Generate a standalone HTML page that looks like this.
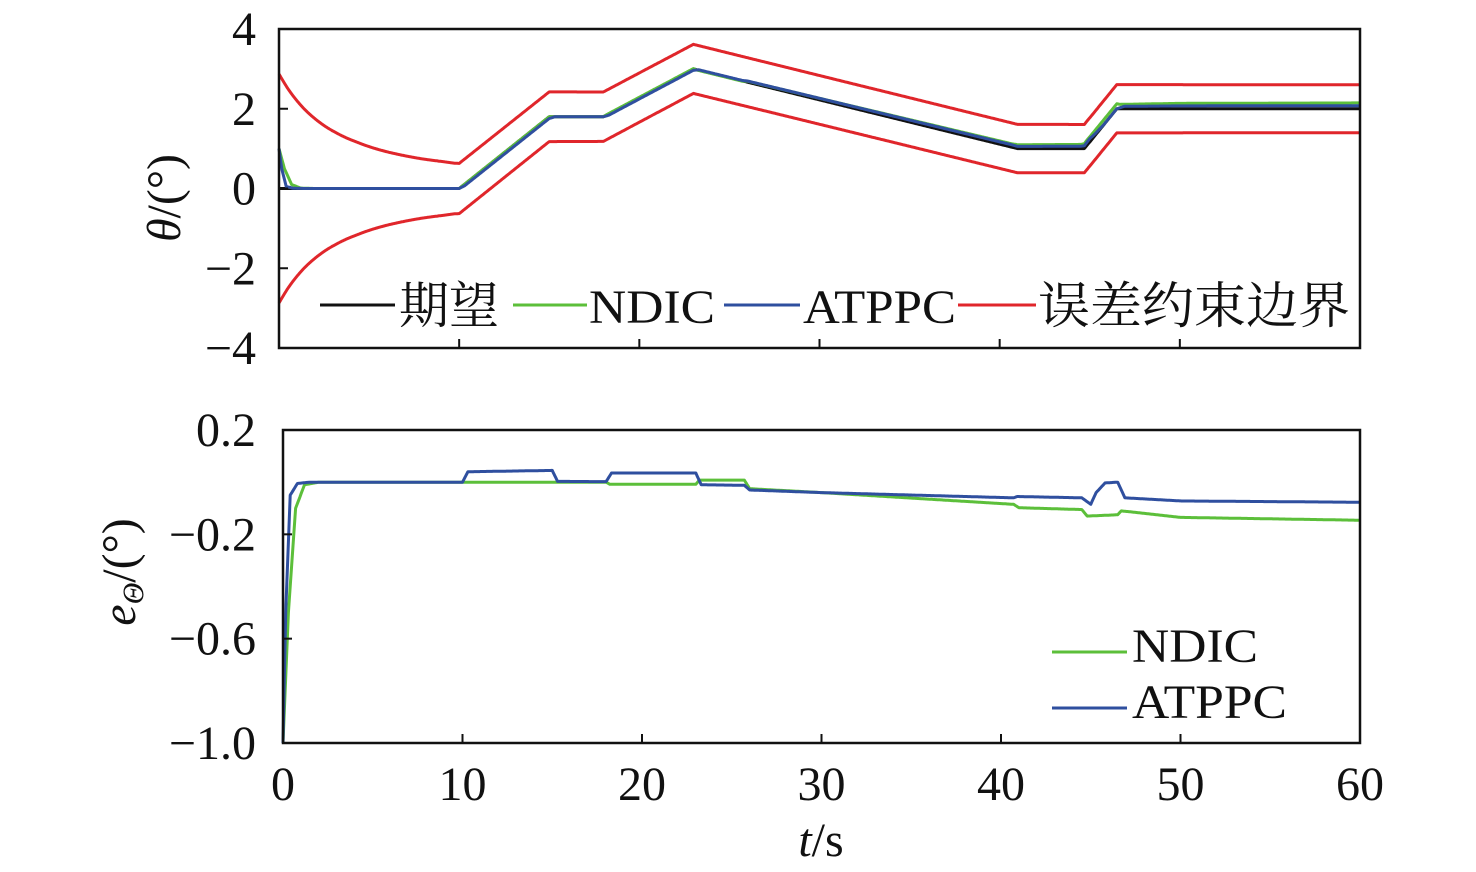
<!DOCTYPE html>
<html><head><meta charset="utf-8"><style>
body{margin:0;background:#fff;}
svg{display:block;font-family:"Liberation Serif","Noto Serif CJK SC",serif;}
</style></head><body>
<svg id="c" width="1476" height="872" viewBox="0 0 1476 872"></svg>
<script>
// ---- data ----
const xTicks=[0,10,20,30,40,50,60];
const topYTicks=[4,2,0,-2,-4];
const topYLabels=["4","2","0","−2","−4"];
const botYTicks=[0.2,-0.2,-0.6,-1.0];
const botYLabels=["0.2","−0.2","−0.6","−1.0"];
// desired trajectory keypoints
const desiredT=[0,10,15,18,23,41,44.7,46.5,60];
const desiredV=[0,0,1.8,1.8,3.0,1.0,1.0,2.0,2.0];
// constraint width rho(t)
const rhoT=[0,0.5,1,1.5,2,2.5,3,3.5,4,5,6,7,8,9,10,60];
const rhoV=[2.87,2.5,2.2,1.95,1.75,1.58,1.44,1.32,1.22,1.05,0.92,0.82,0.74,0.68,0.63,0.6];
// tracking errors
const ndicT=[0,0.3,0.7,1.2,2,10,18,18.2,23,23.2,25.7,26,30,40.7,41,44.5,44.8,46.5,46.7,50,60];
const ndicE=[-1,-0.5,-0.1,-0.01,0,0,0,-0.008,-0.008,0.008,0.008,-0.025,-0.04,-0.085,-0.098,-0.105,-0.13,-0.125,-0.11,-0.135,-0.146];
const atppcT=[0,0.15,0.4,0.8,1.5,10,10.3,15,15.3,18,18.3,23,23.3,25.7,26,30,40.7,40.9,44.5,45,45.3,45.8,46.5,46.9,50,60];
const atppcE=[-1,-0.5,-0.05,-0.005,0,0,0.04,0.045,0.003,0.002,0.035,0.035,-0.01,-0.012,-0.03,-0.04,-0.06,-0.055,-0.06,-0.085,-0.04,-0.003,0,-0.06,-0.072,-0.077];

const svg=document.getElementById('c');
const NS='http://www.w3.org/2000/svg';
function mk(tag,attrs,parent){const e=document.createElementNS(NS,tag);for(const k in attrs)e.setAttribute(k,attrs[k]);(parent||svg).appendChild(e);return e;}
function interp(T,V,t){if(t<=T[0])return V[0];for(let i=1;i<T.length;i++){if(t<=T[i]){const f=(t-T[i-1])/(T[i]-T[i-1]);return V[i-1]+f*(V[i]-V[i-1]);}}return V[V.length-1];}
function interpSmooth(T,V,t){ // monotone-ish cubic (Catmull-Rom) for smooth bounds
 if(t<=T[0])return V[0];
 for(let i=1;i<T.length;i++){if(t<=T[i]){
  const f=(t-T[i-1])/(T[i]-T[i-1]);
  const p0=V[Math.max(i-2,0)],p1=V[i-1],p2=V[i],p3=V[Math.min(i+1,V.length-1)];
  const h=T[i]-T[i-1];
  const m1=(i>1)?(p2-p0)/(T[i]-T[i-2])*h:(p2-p1);
  const m2=(i<T.length-1)?(p3-p1)/(T[i+1]-T[i-1])*h:(p2-p1);
  const f2=f*f,f3=f2*f;
  return (2*f3-3*f2+1)*p1+(f3-2*f2+f)*m1+(-2*f3+3*f2)*p2+(f3-f2)*m2;}}
 return V[V.length-1];}
const P1={x0:279,x1:1360,y0:29,y1:348,ymin:-4,ymax:4};
const P2={x0:283,x1:1360,y0:430,y1:743,ymin:-1,ymax:0.2};
const sx=(p,t)=>p.x0+(t/60)*(p.x1-p.x0);
const sy=(p,v)=>p.y1-(v-p.ymin)/(p.ymax-p.ymin)*(p.y1-p.y0);
const sampleT=[];for(let t=0;t<=60.0001;t+=0.05)sampleT.push(+t.toFixed(2));
const tcat=()=>{const s=new Set([...sampleT,...desiredT,...ndicT,...atppcT]);return [...s].sort((a,b)=>a-b);};

function drawLine(p,f,color,name,w){
 const T=tcat();
 const d=T.map((t,i)=>(i?'L':'M')+sx(p,t).toFixed(1)+','+sy(p,f(t)).toFixed(1)).join(' ');
 const e=mk('path',{d:d,fill:'none',stroke:color,'stroke-width':w||3,'stroke-linejoin':'round'});
 
 
}
function drawAxes(p,yt,yl,name,showX){
 const g=mk('g',{});
 
 
 mk('rect',{x:p.x0,y:p.y0,width:p.x1-p.x0,height:p.y1-p.y0,fill:'none',stroke:'#111','stroke-width':2.5},g);
 xTicks.forEach(t=>{const x=sx(p,t);mk('line',{x1:x,x2:x,y1:p.y1,y2:p.y1-9,stroke:'#111','stroke-width':2},g);
  if(showX){const tx=mk('text',{x:x,y:800,'font-size':48,'text-anchor':'middle',fill:'#111'},g);tx.textContent=t;
   }});
 yt.forEach((v,i)=>{const y=sy(p,v);mk('line',{x1:p.x0,x2:p.x0+9,y1:y,y2:y,stroke:'#111','stroke-width':2},g);
  const tx=mk('text',{x:256,y:y+16,'font-size':48,'text-anchor':'end',fill:'#111'},g);tx.textContent=yl[i];
  });
}
const rho=t=>interpSmooth(rhoT,rhoV,t);
// top plot
drawLine(P1,t=>interp(desiredT,desiredV,t)+rho(t),'#e0262b','upper-bound-line');
drawLine(P1,t=>interp(desiredT,desiredV,t)-rho(t),'#e0262b','lower-bound-line');
drawLine(P1,t=>interp(desiredT,desiredV,t),'#111','desired-line');
drawLine(P1,t=>interp(desiredT,desiredV,t)-interp(ndicT,ndicE,t),'#5cbf3a','ndic-theta-line');
drawLine(P1,t=>interp(desiredT,desiredV,t)-interp(atppcT,atppcE,t),'#2f4f9f','atppc-theta-line');
drawAxes(P1,topYTicks,topYLabels,'top-axes',false);
// bottom plot
drawLine(P2,t=>interp(ndicT,ndicE,t),'#5cbf3a','ndic-error-line');
drawLine(P2,t=>interp(atppcT,atppcE,t),'#2f4f9f','atppc-error-line');
drawAxes(P2,botYTicks,botYLabels,'bottom-axes',true);
</script>
<svg width="1476" height="872" style="position:absolute;left:0;top:0">
 <g font-size="48" fill="#111">
  <line x1="320" x2="395" y1="305" y2="305" stroke="#111" stroke-width="3"/>
  <text x="399" y="323" font-size="50">期望</text>
  <line x1="513" x2="587" y1="305" y2="305" stroke="#5cbf3a" stroke-width="3"/>
  <text x="589" y="323" textLength="126" lengthAdjust="spacingAndGlyphs">NDIC</text>
  <line x1="724" x2="800" y1="305" y2="305" stroke="#2f4f9f" stroke-width="3"/>
  <text x="803" y="323" textLength="153" lengthAdjust="spacingAndGlyphs">ATPPC</text>
  <line x1="958" x2="1036" y1="305" y2="305" stroke="#e0262b" stroke-width="3"/>
  <text x="1038" y="323" font-size="50" textLength="312" lengthAdjust="spacingAndGlyphs">误差约束边界</text>
 </g>
 <g font-size="48" fill="#111">
  <line x1="1052" x2="1127" y1="652" y2="652" stroke="#5cbf3a" stroke-width="3"/>
  <text x="1132" y="662" textLength="126" lengthAdjust="spacingAndGlyphs">NDIC</text>
  <line x1="1052" x2="1127" y1="708" y2="708" stroke="#2f4f9f" stroke-width="3"/>
  <text x="1132" y="718" textLength="155" lengthAdjust="spacingAndGlyphs">ATPPC</text>
 </g>
 <text transform="translate(180,198) rotate(-90)" text-anchor="middle" font-size="48" fill="#111"><tspan font-style="italic">θ</tspan>/(°)</text>
 <text transform="translate(135,572) rotate(-90)" text-anchor="middle" font-size="48" fill="#111"><tspan font-style="italic">e</tspan><tspan font-size="30" dy="8" font-style="italic">Θ</tspan><tspan dy="-8">/(°)</tspan></text>
 <text x="821" y="856" text-anchor="middle" font-size="48" fill="#111"><tspan font-style="italic">t</tspan>/s</text>
</svg>
</body></html>
